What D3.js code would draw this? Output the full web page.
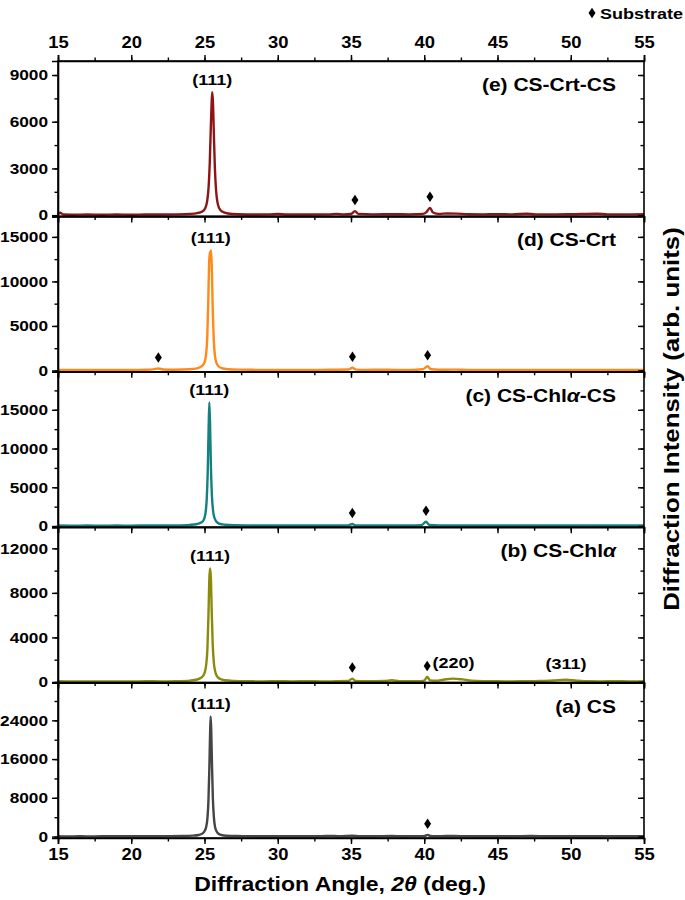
<!DOCTYPE html>
<html><head><meta charset="utf-8">
<script src="https://cdn.jsdelivr.net/npm/d3@7"></script>
<style>
body{margin:0;background:#fff}
svg{display:block}
text{font-family:"Liberation Sans",Arial,sans-serif;font-weight:bold;fill:#000}
</style>
</head><body>
<svg id="chart" width="685" height="900"></svg>
<script>
// ---------- DATA ----------
const angleTicks = [15, 20, 25, 30, 35, 40, 45, 50, 55];

const panelIds = ["e", "d", "c", "b", "a"];               // top to bottom
const panelLabels = [
  ["(e) CS-Crt-CS"],
  ["(d) CS-Crt"],
  ["(c) CS-Chl", "α", "-CS"],
  ["(b) CS-Chl", "α"],
  ["(a) CS"]
];
const panelColors = ["#8e1515", "#ff8a1a", "#148080", "#8a8a0c", "#454545"];
const yDomains = [[-80, 9900], [-150, 17300], [-150, 19900], [-60, 13900], [-300, 31800]];
const yMajor = [[0, 3000, 6000, 9000], [0, 5000, 10000, 15000], [0, 5000, 10000, 15000], [0, 4000, 8000, 12000], [0, 8000, 16000, 24000]];
const yMinorStep = [1500, 2500, 2500, 2000, 4000];

// [2θ, intensity]
const seriesE = [[15,60],[15.15,150],[15.35,40],[16,30],[17,40],[18,30],[19,40],[20,30],[21,40],[22,40],[23,50],[24,80],[24.5,130],[24.85,240],[25.05,450],[25.18,900],[25.28,1800],[25.36,3400],[25.43,5600],[25.49,7300],[25.53,7900],[25.58,7200],[25.64,5200],[25.71,3000],[25.79,1600],[25.88,850],[26.0,450],[26.2,230],[26.6,110],[27.3,60],[28.5,40],[29.5,50],[30,70],[30.6,40],[32,40],[33.5,50],[34,80],[34.5,50],[35.0,70],[35.27,260],[35.5,80],[36.5,50],[38,60],[39,50],[39.9,80],[40.15,200],[40.39,470],[40.6,170],[41,80],[41.6,110],[42.2,100],[43,60],[44,50],[45,60],[46,50],[47,90],[47.6,50],[49,50],[50,60],[51.8,90],[52.5,50],[54,50],[55,60]];
const seriesD = [[15,60],[16,50],[17,60],[18,50],[19,70],[20,60],[21,80],[21.5,120],[21.85,225],[22.2,110],[23,80],[24,130],[24.5,240],[24.8,450],[25.0,900],[25.1,1700],[25.19,3800],[25.26,8000],[25.32,12300],[25.37,13300],[25.41,13100],[25.45,13500],[25.5,11500],[25.56,7000],[25.63,3500],[25.71,1700],[25.82,850],[25.97,450],[26.2,250],[26.6,140],[27.3,90],[28.5,70],[30,60],[31,70],[32,60],[33,70],[34,80],[34.8,100],[35.1,300],[35.35,100],[36,70],[37,80],[38,70],[39,60],[39.9,130],[40.23,480],[40.45,130],[41,80],[42,90],[43,70],[44,60],[45,70],[46,60],[47,70],[48,60],[49,70],[50,60],[51,70],[52,60],[53,70],[54,60],[55,60]];
const seriesC = [[15,70],[16,50],[17,60],[18,50],[19,60],[20,50],[21,70],[22,60],[23,80],[24,150],[24.5,260],[24.8,480],[24.97,900],[25.07,1700],[25.15,3400],[25.22,7000],[25.28,12500],[25.33,15950],[25.38,13000],[25.44,7500],[25.51,3800],[25.59,1900],[25.69,1000],[25.82,560],[26,320],[26.4,170],[27,100],[28,80],[29,70],[30,80],[31,60],[32,70],[33,60],[34,70],[34.8,90],[35.09,260],[35.3,90],[36,70],[37,60],[38,80],[39,70],[39.8,100],[40.12,560],[40.35,130],[41,80],[42,90],[43,70],[44,60],[45,70],[46,60],[47,80],[48,60],[49,70],[50,60],[51,80],[52,60],[53,70],[54,60],[55,70]];
const seriesB = [[15,60],[16,40],[17,50],[18,40],[19,50],[20,40],[21,60],[22,50],[23,70],[24,120],[24.5,220],[24.8,400],[25.0,800],[25.12,1600],[25.2,3000],[25.27,6000],[25.33,9300],[25.38,10200],[25.43,9500],[25.49,6500],[25.56,3400],[25.64,1700],[25.74,900],[25.86,500],[26.05,280],[26.4,150],[27,90],[28,60],[29,50],[30,60],[31,50],[32,60],[33,50],[34,60],[34.8,80],[35.09,300],[35.3,90],[36,60],[37.3,80],[37.78,150],[38.3,70],[39.5,70],[40.0,120],[40.2,450],[40.4,140],[40.8,120],[41.3,200],[41.96,300],[42.6,230],[43.2,120],[44,70],[45,60],[46,50],[47,70],[48,80],[48.8,130],[49.68,200],[50.4,120],[51.2,60],[52,50],[53,60],[54,50],[55,60]];
const seriesA = [[15,80],[15.5,40],[16.5,50],[17.5,40],[18.5,60],[19.5,50],[20.5,60],[21.5,70],[22.5,80],[23.5,110],[24.2,180],[24.6,320],[24.85,600],[25.0,1100],[25.1,1800],[25.2,3800],[25.27,7500],[25.33,14000],[25.38,21000],[25.42,24830],[25.46,22000],[25.51,15000],[25.57,8000],[25.64,4000],[25.72,2000],[25.82,1100],[25.95,600],[26.15,320],[26.5,170],[27.2,100],[28,80],[29,70],[30,60],[31,70],[32,60],[33,80],[33.6,140],[34.2,70],[35.1,150],[35.6,60],[36.5,70],[37.8,100],[38.5,70],[39.7,80],[40.05,150],[40.23,350],[40.4,140],[40.8,80],[41.5,110],[42,120],[43,70],[44.5,60],[46,70],[47.3,100],[48.5,60],[50,70],[51.5,60],[52.5,90],[54,60],[55,70]];
const allSeries = [seriesE, seriesD, seriesC, seriesB, seriesA];

// substrate marker angles per panel
const substrateAngles = [[35.27, 40.39], [21.85, 35.1, 40.23], [35.09, 40.12], [35.09, 40.2], [40.23]];
// reflection labels per panel: [angle, text]
const hklLabels = [
  [[25.53, "(111)"]],
  [[25.42, "(111)"]],
  [[25.33, "(111)"]],
  [[25.38, "(111)"], [42.0, "(220)"], [49.68, "(311)"]],
  [[25.42, "(111)"]]
];

// ---------- LAYOUT ----------
const L = 58, R = 644, T = 61, PH = 155.4;
const SX = 1.15; // horizontal stretch of the lettering
const svg = d3.select("#chart");
const x = d3.scaleLinear().domain([15, 55]).range([L, R]);
const minorX = d3.range(15, 55.01, 2.5);

panelIds.forEach((id, i) => {
  const top = T + i * PH, bot = top + PH;
  const y = d3.scaleLinear().domain(yDomains[i]).range([bot, top]);
  const g = svg.append("g");
  const data = allSeries[i];

  // line
  const line = d3.line().x(d => x(d[0])).y(d => y(d[1])).curve(d3.curveMonotoneX);
  g.append("path").datum(data).attr("d", line)
    .attr("fill", "none").attr("stroke", panelColors[i]).attr("stroke-width", 2.4)
    .attr("stroke-linejoin", "round");

  const minorY = d3.range(0, yDomains[i][1], yMinorStep[i]);
  // left axis
  const gl = g.append("g").attr("transform", `translate(${L},0)`)
    .call(d3.axisLeft(y).tickValues(yMajor[i]).tickSize(6).tickPadding(4).tickFormat(d3.format("d")));
  gl.selectAll(".tick text").style("font-size", "15px")
    .attr("x", 0).attr("transform", `translate(-10,0) scale(${SX},1)`);
  g.append("g").attr("transform", `translate(${L},0)`)
    .call(d3.axisLeft(y).tickValues(minorY).tickSize(3.5).tickFormat(""))
    .select(".domain").remove();
  // right axis (inward)
  g.append("g").attr("transform", `translate(${R},0)`)
    .call(d3.axisRight(y).tickValues(yMajor[i]).tickSize(-6).tickFormat(""))
    .select(".domain").remove();
  g.append("g").attr("transform", `translate(${R},0)`)
    .call(d3.axisRight(y).tickValues(minorY).tickSize(-3.5).tickFormat(""))
    .select(".domain").remove();

  // bottom axis (outward)
  const gb = g.append("g").attr("transform", `translate(0,${bot})`)
    .call(d3.axisBottom(x).tickValues(angleTicks).tickSize(6).tickPadding(5)
      .tickFormat(i === panelIds.length - 1 ? d3.format("d") : ""));
  gb.selectAll(".tick text").style("font-size", "16px")
    .attr("transform", `scale(${SX},1)`);
  g.append("g").attr("transform", `translate(0,${bot})`)
    .call(d3.axisBottom(x).tickValues(minorX).tickSize(3.5).tickFormat(""))
    .select(".domain").remove();

  if (i === 0) {
    const gt = g.append("g").attr("transform", `translate(0,${top})`)
      .call(d3.axisTop(x).tickValues(angleTicks).tickSize(6).tickPadding(7).tickFormat(d3.format("d")));
    gt.selectAll(".tick text").style("font-size", "16px").attr("transform", `scale(${SX},1)`);
    g.append("g").attr("transform", `translate(0,${top})`)
      .call(d3.axisTop(x).tickValues(minorX).tickSize(3.5).tickFormat(""))
      .select(".domain").remove();
  }

  // frame
  g.append("rect").attr("x", L).attr("y", top).attr("width", R - L).attr("height", PH)
    .attr("fill", "none").attr("stroke", "#000").attr("stroke-width", 1.6);
  g.selectAll(".domain").attr("stroke-width", 1.6);
  g.selectAll(".tick line").attr("stroke-width", 1.4);

  // panel label
  const t = g.append("text").attr("text-anchor", "end")
    .attr("transform", `translate(616,${top + 30}) scale(1.2,1)`)
    .style("font-size", "17.5px");
  panelLabels[i].forEach(p => {
    const ts = t.append("tspan").text(p);
    if (p === "α") ts.style("font-style", "italic");
  });

  const localMax = (a, w) => d3.max(data.filter(d => Math.abs(d[0] - a) <= w), d => d[1]);

  // hkl labels
  hklLabels[i].forEach(([a, txt]) => {
    const isMain = txt === "(111)";
    const yy = y(localMax(a, isMain ? 0.3 : 0.6)) - (isMain ? 7.5 : 11);
    g.append("text").attr("text-anchor", "middle")
      .attr("transform", `translate(${x(a)},${yy}) scale(1.2,1)`)
      .style("font-size", "15px").text(txt);
  });

  // substrate diamonds
  substrateAngles[i].forEach(a => {
    const yy = y(localMax(a, 0.25)) - 11;
    g.append("path").attr("d", d3.symbol(d3.symbolDiamond, 32)())
      .attr("transform", `translate(${x(a)},${yy}) scale(1.15,1)`).attr("fill", "#000");
  });
});

// legend
svg.append("path").attr("d", d3.symbol(d3.symbolDiamond, 32)())
  .attr("transform", "translate(592,13) scale(1.15,1)").attr("fill", "#000");
svg.append("text").attr("transform", `translate(600,18.5) scale(1.2,1)`)
  .style("font-size", "15px").text("Substrate");

// axis titles
const xt = svg.append("text").attr("text-anchor", "middle")
  .attr("transform", `translate(340,891) scale(${SX},1)`).style("font-size", "20px");
xt.append("tspan").text("Diffraction Angle, ");
xt.append("tspan").style("font-style", "italic").text("2θ");
xt.append("tspan").text(" (deg.)");

svg.append("text").attr("text-anchor", "middle")
  .attr("transform", `translate(679,419) rotate(-90) scale(${SX},1)`)
  .style("font-size", "22.5px").text("Diffraction Intensity (arb. units)");
</script>
</body></html>
